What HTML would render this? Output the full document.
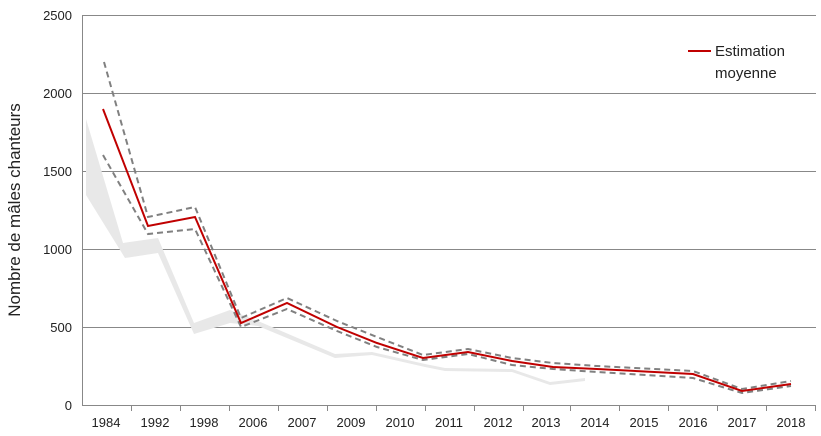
<!DOCTYPE html><html><head><style>body{margin:0;background:#fff}svg{display:block;font-family:"Liberation Sans",Arial,sans-serif}</style></head><body>
<svg width="821" height="436" viewBox="0 0 821 436">
<g stroke="#888" stroke-width="1">
<line x1="82" y1="15.5" x2="816" y2="15.5"/><line x1="82" y1="93.5" x2="816" y2="93.5"/><line x1="82" y1="171.5" x2="816" y2="171.5"/><line x1="82" y1="249.5" x2="816" y2="249.5"/><line x1="82" y1="327.5" x2="816" y2="327.5"/>
<line x1="82" y1="405.5" x2="816" y2="405.5"/><line x1="82.5" y1="15" x2="82.5" y2="406"/>
<line x1="131.5" y1="405" x2="131.5" y2="411"/><line x1="180.5" y1="405" x2="180.5" y2="411"/><line x1="229.5" y1="405" x2="229.5" y2="411"/><line x1="278.5" y1="405" x2="278.5" y2="411"/><line x1="327.5" y1="405" x2="327.5" y2="411"/><line x1="376.5" y1="405" x2="376.5" y2="411"/><line x1="425.5" y1="405" x2="425.5" y2="411"/><line x1="474.5" y1="405" x2="474.5" y2="411"/><line x1="523.5" y1="405" x2="523.5" y2="411"/><line x1="570.5" y1="405" x2="570.5" y2="411"/><line x1="619.5" y1="405" x2="619.5" y2="411"/><line x1="668.5" y1="405" x2="668.5" y2="411"/><line x1="717.5" y1="405" x2="717.5" y2="411"/><line x1="766.5" y1="405" x2="766.5" y2="411"/><line x1="815.5" y1="405" x2="815.5" y2="411"/>
</g>
<polygon fill="#e8e8e8" points="86,119 123,243 158,238 194,323 230,310 258,321 335,354 372,352 425,364 445,368 512,369 550,382 585,378 585,381 550,385 512,372 445,371 425,367 372,355 335,358 258,326 230,323 194,334 158,253 125,258 86,195"/>
<polyline fill="none" stroke="#808080" stroke-width="2" stroke-dasharray="6,4" points="104,62 148,217 195,207 241,318 287,298 337,321 377,337 423,355 468,349 512,358 553,363 597,366 693,371 742,389 791,381"/>
<polyline fill="none" stroke="#808080" stroke-width="2" stroke-dasharray="6,4" points="103,155 148,234 195,229 241,327 287,309 337,331 377,347 423,360 468,354 512,365 553,369 597,372 693,378 742,393 791,386"/>
<polyline fill="none" stroke="#c00000" stroke-width="2" points="103,109 148,226 195,217 241,323 287,303 337,327 377,343 423,358 468,352 512,361 553,367 597,369 693,374 742,391 791,384"/>
<line x1="688" y1="51" x2="711" y2="51" stroke="#c00000" stroke-width="2"/>
<g font-size="15" fill="#222"><text x="715" y="56">Estimation</text><text x="715" y="78">moyenne</text></g>
<g font-size="13" fill="#222" text-anchor="end"><text x="72" y="20">2500</text><text x="72" y="98">2000</text><text x="72" y="176">1500</text><text x="72" y="254">1000</text><text x="72" y="332">500</text><text x="72" y="410">0</text></g>
<g font-size="13" fill="#222" text-anchor="middle"><text x="106" y="427">1984</text><text x="155" y="427">1992</text><text x="204" y="427">1998</text><text x="253" y="427">2006</text><text x="302" y="427">2007</text><text x="351" y="427">2009</text><text x="400" y="427">2010</text><text x="449" y="427">2011</text><text x="498" y="427">2012</text><text x="546" y="427">2013</text><text x="595" y="427">2014</text><text x="644" y="427">2015</text><text x="693" y="427">2016</text><text x="742" y="427">2017</text><text x="791" y="427">2018</text></g>
<text transform="translate(20,210) rotate(-90)" font-size="17" fill="#222" text-anchor="middle">Nombre de mâles chanteurs</text>
</svg></body></html>
